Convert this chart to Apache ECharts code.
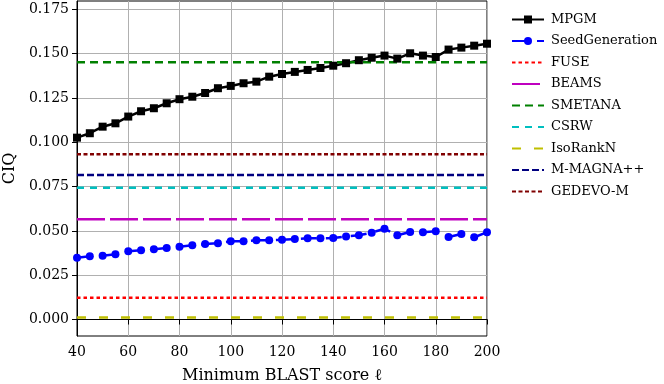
<!DOCTYPE html>
<html>
<head>
<meta charset="utf-8">
<script src="https://cdn.jsdelivr.net/npm/echarts@6/dist/echarts.min.js"></script>
<style>
  html, body { margin: 0; padding: 0; background: #fff; }
  #chart { width: 664px; height: 384px; }
</style>
</head>
<body>
<div id="chart"></div>
<script>
// minimum BLAST score (x)
const blastScores = [40, 45, 50, 55, 60, 65, 70, 75, 80, 85, 90, 95, 100, 105, 110, 115, 120,
  125, 130, 135, 140, 145, 150, 155, 160, 165, 170, 175, 180, 185, 190, 195, 200];
const mpgm = [0.1026, 0.1051, 0.1088, 0.1107, 0.1145, 0.1175, 0.1192, 0.1220, 0.1243, 0.1257,
  0.1278, 0.1305, 0.1318, 0.1333, 0.1342, 0.1370, 0.1385, 0.1397, 0.1408, 0.1419, 0.1432,
  0.1446, 0.1463, 0.1477, 0.1489, 0.1472, 0.1502, 0.1489, 0.1481, 0.1523, 0.1534, 0.1545, 0.1556];
const seedGeneration = [0.0349, 0.0357, 0.0360, 0.0368, 0.0385, 0.0391, 0.0396, 0.0403, 0.0411,
  0.0419, 0.0426, 0.0430, 0.0441, 0.0441, 0.0447, 0.0447, 0.0450, 0.0454, 0.0458, 0.0458, 0.0460,
  0.0469, 0.0475, 0.0490, 0.0512, 0.0475, 0.0494, 0.0492, 0.0498, 0.0466, 0.0482, 0.0464, 0.0492];
// constant baselines
const baselineNames = ['FUSE', 'BEAMS', 'SMETANA', 'CSRW', 'IsoRankN', 'M-MAGNA++', 'GEDEVO-M'];
const baselineValues = [0.0123, 0.0565, 0.1451, 0.0744, 0.0012, 0.0815, 0.0932];
const yTicks = [0, 0.025, 0.05, 0.075, 0.1, 0.125, 0.15, 0.175];

const FONT = 'DejaVu Serif';
const baselineStyle = {
  'FUSE':      { color: '#ff0000', dash: [3.5, 3] },
  'BEAMS':     { color: '#bf00bf', dash: [28, 5] },
  'SMETANA':   { color: '#008000', dash: [8, 5] },
  'CSRW':      { color: '#00bfbf', dash: [7, 6] },
  'IsoRankN':  { color: '#bfbf00', dash: [9, 13] },
  'M-MAGNA++': { color: '#000080', dash: [7, 3] },
  'GEDEVO-M':  { color: '#800000', dash: [4, 2.5] }
};

const chart = echarts.init(document.getElementById('chart'));

const series = [
  {
    name: 'MPGM', type: 'line',
    data: blastScores.map((x, i) => [x, mpgm[i]]),
    symbol: 'rect', symbolSize: 8,
    itemStyle: { color: '#000' },
    lineStyle: { color: '#000', width: 2.5 }
  },
  {
    name: 'SeedGeneration', type: 'line',
    data: blastScores.map((x, i) => [x, seedGeneration[i]]),
    symbol: 'circle', symbolSize: 8,
    itemStyle: { color: '#0000ff' },
    lineStyle: { color: '#0000ff', width: 2.5, type: [16, 9] }
  }
];
baselineNames.forEach((name, i) => {
  const st = baselineStyle[name];
  series.push({
    name: name, type: 'line',
    data: [[blastScores[0], baselineValues[i]], [blastScores[blastScores.length - 1], baselineValues[i]]],
    symbol: 'none',
    itemStyle: { color: st.color },
    lineStyle: { color: st.color, width: 2.5, type: st.dash }
  });
});
series.forEach(s => { s.animation = false; s.silent = true; });

// legend entries; the baselines hide the default marker
const legendData = ['MPGM', 'SeedGeneration'].concat(
  baselineNames.map(n => ({ name: n, itemStyle: { opacity: 0 } }))
);

chart.setOption({
  animation: false,
  grid: {
    left: 77, right: 177, top: 1, bottom: 48,
    outerBoundsMode: 'none',
    show: true, borderColor: '#000', borderWidth: 1
  },
  legend: {
    orient: 'vertical', left: 506, top: 7,
    itemWidth: 32, itemHeight: 10, itemGap: 6.5,
    textStyle: { fontFamily: FONT, fontSize: 13, color: '#000', lineHeight: 15, padding: [0, 0, 0, 2] },
    data: legendData
  },
  xAxis: {
    type: 'value', min: 40, max: 200, interval: 20,
    name: 'Minimum BLAST score ℓ', nameLocation: 'middle', nameGap: 32,
    nameTextStyle: { fontFamily: FONT, fontSize: 16, color: '#000' },
    axisLine: { lineStyle: { color: '#000' } },
    axisTick: { show: true, length: 5, lineStyle: { color: '#000' } },
    axisLabel: { fontFamily: FONT, fontSize: 14, color: '#000', margin: 9 },
    splitLine: { show: true, lineStyle: { color: '#b0b0b0', width: 1 } }
  },
  yAxis: {
    type: 'value', min: -0.0093, max: 0.1797,
    name: 'CIQ', nameLocation: 'middle', nameGap: 56, nameRotate: 90,
    nameTextStyle: { fontFamily: FONT, fontSize: 16, color: '#000' },
    axisLine: { show: true, lineStyle: { color: '#000' } },
    axisTick: { show: true, length: 5, lineStyle: { color: '#000' }, customValues: yTicks },
    axisLabel: {
      fontFamily: FONT, fontSize: 14, color: '#000', margin: 8,
      customValues: yTicks,
      formatter: v => v.toFixed(3)
    },
    splitLine: { show: true, lineStyle: { color: '#b0b0b0', width: 1 } }
  },
  series: series
});
</script>
</body>
</html>
